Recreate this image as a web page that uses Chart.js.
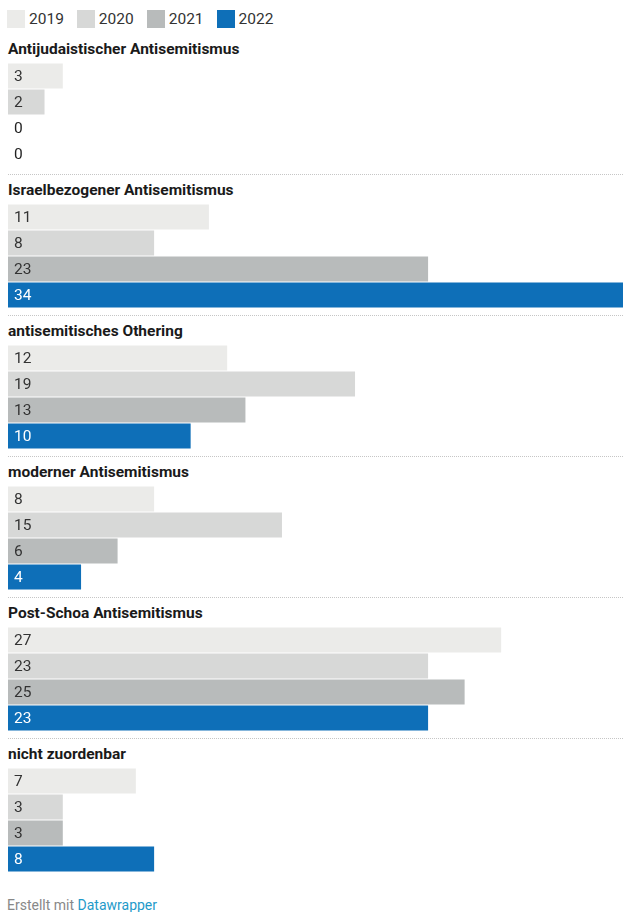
<!DOCTYPE html>
<html lang="de">
<head>
<meta charset="utf-8">
<script src="https://cdn.jsdelivr.net/npm/chart.js@4"></script>
<style>
    body {
        margin: 0;
        background: #fff;
        font-family: Roboto, "Noto Sans", sans-serif;
        color: #333;
        overflow: hidden;
        width: 623px;
        height: 912px;
    }
    .legend {
        height: 33px;
        box-sizing: border-box;
        padding: 5px 0 0 7px;
        display: flex;
        font-size: 15.5px;
        line-height: 18px;
    }
    .legend-item {
        display: flex;
        align-items: center;
        margin-right: 13px;
    }
    .legend-item .box {
        width: 18px;
        height: 18px;
        margin-right: 4px;
    }
    .group {
        border-top: 1px dotted transparent;
        margin-left: 8px;
        margin-bottom: 7px;
    }
    .group.sep {
        border-top-color: #c6c6c6;
    }
    .group h3 {
        margin: 0 0 6px 0;
        padding-top: 8px;
        font-size: 15.5px;
        line-height: 15px;
        font-weight: 700;
        color: #1a1a1a;
    }
    .chart-box {
        position: relative;
        width: 621px;
        height: 104px;
    }
    .footer {
        margin: 26px 0 0 7px;
        font-size: 14px;
        line-height: 14px;
        color: #888;
    }
    .footer span {
        color: #1f9ac9;
    }
</style>
</head>
<body>
<div class="legend" id="legend"></div>
<div id="groups"></div>
<div class="footer">Erstellt mit <span>Datawrapper</span></div>

<script>
// Daten
const categories = [
    'Antijudaistischer Antisemitismus',
    'Israelbezogener Antisemitismus',
    'antisemitisches Othering',
    'moderner Antisemitismus',
    'Post-Schoa Antisemitismus',
    'nicht zuordenbar'
];
const years = ['2019', '2020', '2021', '2022'];
const values2019 = [3, 11, 12, 8, 27, 7];
const values2020 = [2, 8, 19, 15, 23, 3];
const values2021 = [0, 23, 13, 6, 25, 3];
const values2022 = [0, 34, 10, 4, 23, 8];
const xMax = 34;

const series = [values2019, values2020, values2021, values2022];
const colors = ['#ebebe9', '#d7d8d7', '#b8bbbb', '#0e6fb8'];
const labelColors = ['#333', '#333', '#333', '#fff'];

// Legende
function buildLegend() {
    const legend = document.getElementById('legend');
    years.forEach((year, i) => {
        const item = document.createElement('div');
        item.className = 'legend-item';
        item.innerHTML = `<div class="box" style="background:${colors[i]}"></div>${year}`;
        legend.appendChild(item);
    });
}

// Werte in die Balken schreiben
const valueLabels = {
    id: 'valueLabels',
    afterDatasetsDraw(chart) {
        const ctx = chart.ctx;
        const meta = chart.getDatasetMeta(0);
        const data = chart.data.datasets[0].data;
        ctx.save();
        ctx.font = '15.5px Roboto, sans-serif';
        ctx.textBaseline = 'middle';
        ctx.textAlign = 'left';
        meta.data.forEach((bar, i) => {
            // leere Balken: Zahl dunkel auf weiss
            ctx.fillStyle = data[i] === 0 ? '#222' : labelColors[i];
            ctx.fillText(String(data[i]), chart.chartArea.left + 6, bar.y + 1);
        });
        ctx.restore();
    }
};

function buildGroup(index) {
    const group = document.createElement('div');
    group.className = 'group' + (index > 0 ? ' sep' : '');
    const title = document.createElement('h3');
    title.textContent = categories[index];
    group.appendChild(title);
    const box = document.createElement('div');
    box.className = 'chart-box';
    const canvas = document.createElement('canvas');
    box.appendChild(canvas);
    group.appendChild(box);
    document.getElementById('groups').appendChild(group);

    new Chart(canvas.getContext('2d'), {
        type: 'bar',
        data: {
            labels: years,
            datasets: [{
                data: series.map(s => s[index]),
                backgroundColor: colors,
                borderWidth: 0,
                categoryPercentage: 1,
                barPercentage: 0.96
            }]
        },
        options: {
            indexAxis: 'y',
            responsive: true,
            maintainAspectRatio: false,
            animation: false,
            layout: { padding: 0 },
            scales: {
                x: { display: false, min: 0, max: xMax },
                y: { display: false }
            },
            plugins: {
                legend: { display: false },
                tooltip: { enabled: false }
            }
        },
        plugins: [valueLabels]
    });
}

buildLegend();
categories.forEach((c, i) => buildGroup(i));
</script>
</body>
</html>
